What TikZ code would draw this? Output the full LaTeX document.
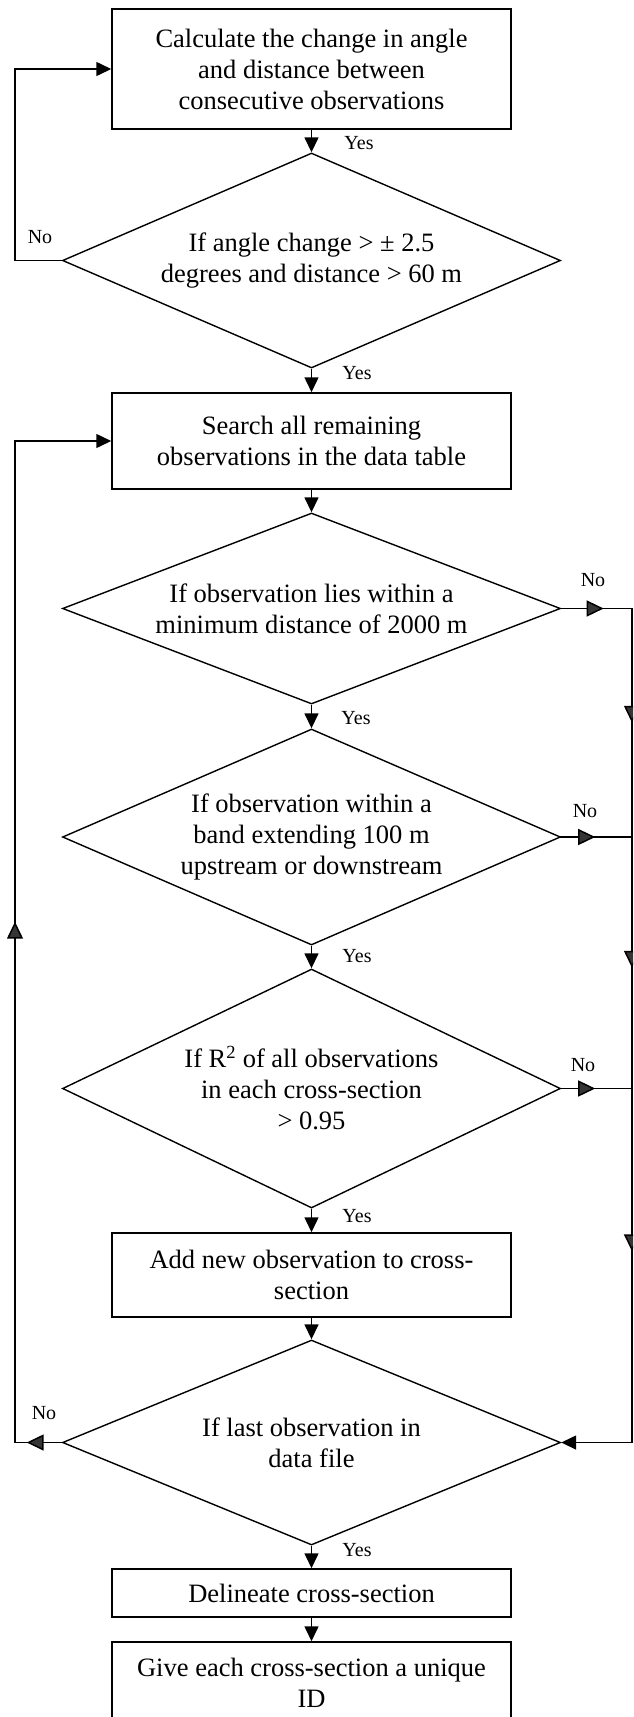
\documentclass[tikz,border=0pt]{standalone}
\usepackage{fontspec}
\setmainfont{Liberation Serif}
\usetikzlibrary{shapes.geometric,arrows.meta,decorations.markings}
\definecolor{arrowgray}{HTML}{353535}
\newcommand{\mainfs}{\fontsize{26.5}{31}\selectfont}
\newcommand{\labfs}{\fontsize{20}{24}\selectfont}
\begin{document}
\begin{tikzpicture}[x=1pt,y=-1pt,
  box/.style={draw, line width=1.5pt, minimum width=399pt, inner sep=0pt, align=center, font=\mainfs},
  dia/.style={draw, diamond, line width=1.4pt, minimum width=498pt, inner sep=0pt, align=center, font=\mainfs},
  lab/.style={font=\labfs, inner sep=0pt},
  conn/.style={line width=1.5pt},
  endarrow/.style={conn, -{Triangle[length=15pt,width=14pt]}},
  midarrow/.style={conn, decoration={markings, mark=at position #1 with {\arrow{Triangle[length=17pt,width=16pt,fill=arrowgray]}}}, postaction={decorate}}
]
\useasboundingbox (0,0) rectangle (633,1717);
\clip (0,0) rectangle (633,1717);

% nodes
\node[box, minimum height=120pt] (box1) at (311.5,69) {Calculate the change in angle\\and distance between\\consecutive observations};
\node[dia, minimum height=215pt, aspect=2.3] (d1) at (311.5,260.5) {If angle change > ± 2.5\\degrees and distance > 60 m};
\node[box, minimum height=96pt] (box2) at (311.5,441) {Search all remaining\\observations in the data table};
\node[dia, minimum height=191pt, aspect=2.6] (d2) at (311.5,608.5) {If observation lies within a\\minimum distance of 2000 m};
\node[dia, minimum height=216pt, aspect=2.3] (d3) at (311.5,837) {If observation within a\\band extending 100 m\\upstream or downstream};
\node[dia, minimum height=239pt, aspect=2.08] (d4) at (311.5,1088.5) {If R\textsuperscript{2} of all observations\\in each cross-section\\> 0.95};
\node[box, minimum height=84pt] (box3) at (311.5,1275) {Add new observation to cross-\\section};
\node[dia, minimum height=205pt, aspect=2.4] (d5) at (311.5,1442.5) {If last observation in\\data file};
\node[box, minimum height=48pt] (box4) at (311.5,1593) {Delineate cross-section};
\node[box, minimum height=82pt] (box5) at (311.5,1683) {Give each cross-section a unique\\ID};

% labels
\node[lab] (y1) at (359,143) {Yes};
\node[lab] (y2) at (357,373) {Yes};
\node[lab] (y3) at (356,718) {Yes};
\node[lab] (y4) at (357,956) {Yes};
\node[lab] (y5) at (357,1216) {Yes};
\node[lab] (y6) at (357,1550) {Yes};
\node[lab] (n1) at (40,237) {No};
\node[lab] (n2) at (593,580) {No};
\node[lab] (n3) at (585,811) {No};
\node[lab] (n4) at (583,1065) {No};
\node[lab] (n5) at (44,1413) {No};

% coordinates
\coordinate (l1t) at (15,69);
\coordinate (l5) at (15,1442.5);
\coordinate (l2) at (15,441);
\coordinate (r2) at (632,608.5);
\coordinate (r3) at (632,837);
\coordinate (r4) at (632,1088.5);
\coordinate (r5) at (632,1442.5);

% main flow
\draw[endarrow] (box1.south) -- (d1.north);
\draw[endarrow] (d1.south) -- (box2.north);
\draw[endarrow] (box2.south) -- (d2.north);
\draw[endarrow] (d2.south) -- (d3.north);
\draw[endarrow] (d3.south) -- (d4.north);
\draw[endarrow] (d4.south) -- (box3.north);
\draw[endarrow] (box3.south) -- (d5.north);
\draw[endarrow] (d5.south) -- (box4.north);
\draw[endarrow] (box4.south) -- (box5.north);

% first loop
\draw[endarrow] (d1.west) -| (l1t) -- (box1.west);

% big left loop
\draw[midarrow=0.75, line cap=rect] (d5.west) -- (l5);
\draw[midarrow=0.52, line cap=rect] (l5) -- (l2);
\draw[endarrow] (l2) -- (box2.west);

% right side
\draw[midarrow=0.6, line cap=rect] (d2.east) -- (r2);
\draw[midarrow=0.48, line cap=rect] (d3.east) -- (r3);
\draw[midarrow=0.48, line cap=rect] (d4.east) -- (r4);
\draw[midarrow=0.5, line cap=rect] (r2) -- (r3);
\draw[midarrow=0.52, line cap=rect] (r3) -- (r4);
\draw[midarrow=0.46, line cap=rect] (r4) -- (r5);
\draw[endarrow] (r5) -- (d5.east);
\end{tikzpicture}
\end{document}
